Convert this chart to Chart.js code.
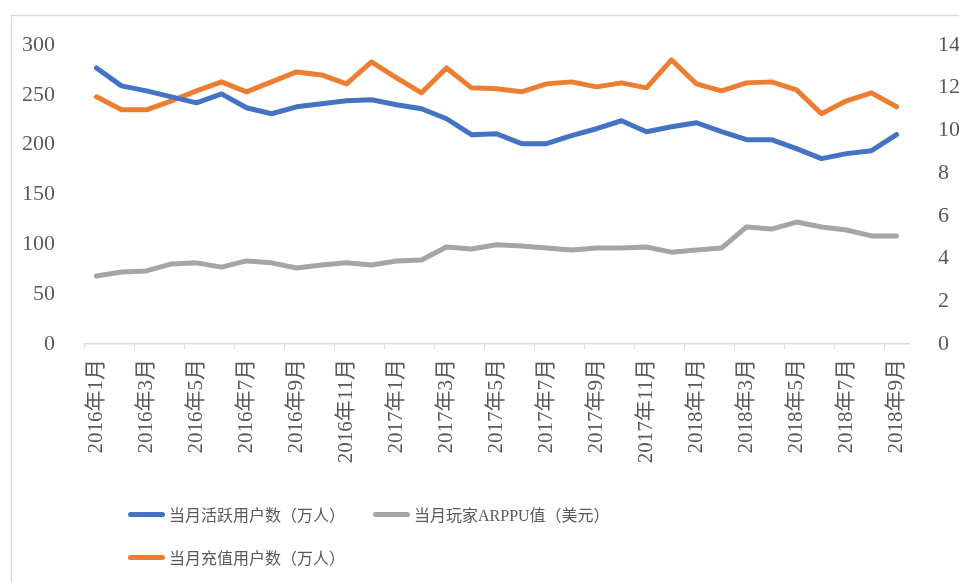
<!DOCTYPE html>
<html>
<head>
<meta charset="utf-8">
<script src="https://cdn.jsdelivr.net/npm/chart.js@4.4.1/dist/chart.umd.min.js"></script>
<style>
  html, body { margin: 0; padding: 0; background: #fff; }
  #wrap { position: relative; width: 959px; height: 582px; overflow: hidden; }
  #c { position: absolute; left: 0; top: 0; }
  .lg { position: absolute; display: flex; align-items: center; font-family: 'Liberation Serif', 'Noto Sans CJK SC', serif; font-size: 16px; color: #595959; white-space: nowrap; }
  .sw { display: inline-block; width: 37px; height: 5px; border-radius: 3px; margin-right: 4px; }
</style>
</head>
<body>
<div id="wrap">
  <canvas id="c" width="959" height="582"></canvas>
  <div id="legend"></div>
</div>
<script>
const categories = [
  '2016年1月','2016年2月','2016年3月','2016年4月','2016年5月','2016年6月','2016年7月','2016年8月','2016年9月','2016年10月','2016年11月','2016年12月',
  '2017年1月','2017年2月','2017年3月','2017年4月','2017年5月','2017年6月','2017年7月','2017年8月','2017年9月','2017年10月','2017年11月','2017年12月',
  '2018年1月','2018年2月','2018年3月','2018年4月','2018年5月','2018年6月','2018年7月','2018年8月','2018年9月'
];
const activeUsers = [277,259,254,248,242,251,237,231,238,241,244,245,240,236,226,210,211,201,201,209,216,224,213,218,222,213,205,205,196,186,191,194,210];
const payingUsers = [248,235,235,244,254,263,253,263,273,270,261,283,267,252,277,257,256,253,261,263,258,262,257,285,261,254,262,263,255,231,244,252,238];
const arppu = [3.18,3.37,3.42,3.75,3.8,3.6,3.89,3.8,3.56,3.7,3.8,3.7,3.89,3.93,4.54,4.45,4.65,4.59,4.49,4.4,4.49,4.5,4.54,4.3,4.4,4.49,5.48,5.38,5.71,5.48,5.34,5.06,5.06];
const seriesNames = ['当月活跃用户数（万人）','当月玩家ARPPU值（美元）','当月充值用户数（万人）'];
const seriesColors = ['#4472C4','#A5A5A5','#ED7D31'];

const FONT = "'Liberation Serif', 'Noto Sans CJK SC', serif";
const TXT = '#595959';

const borderPlugin = {
  id: 'frame',
  beforeDraw(chart) {
    const ctx = chart.ctx;
    ctx.save();
    ctx.strokeStyle = '#d9d9d9';
    ctx.lineWidth = 1.5;
    ctx.strokeRect(11.5, 15.5, 2000, 2000);
    ctx.restore();
  }
};

const mk = (label, data, color, axis) => ({
  label, data, yAxisID: axis,
  borderColor: color, backgroundColor: color,
  borderWidth: 5, pointRadius: 0, tension: 0,
  borderCapStyle: 'round', borderJoinStyle: 'round', fill: false
});

new Chart(document.getElementById('c'), {
  type: 'line',
  data: {
    labels: categories,
    datasets: [
      mk(seriesNames[0], activeUsers, seriesColors[0], 'y'),
      mk(seriesNames[1], arppu, seriesColors[1], 'y2'),
      mk(seriesNames[2], payingUsers, seriesColors[2], 'y')
    ]
  },
  options: {
    responsive: false,
    animation: false,
    layout: { padding: { top: 45, left: 0, right: 0, bottom: 0 } },
    plugins: { legend: { display: false }, tooltip: { enabled: false } },
    scales: {
      x: {
        offset: true,
        grid: {
          offset: true, drawOnChartArea: false, drawTicks: true, tickLength: 5,
          tickColor: (c) => (c.index !== undefined && c.index % 2 === 0) ? '#d9d9d9' : 'rgba(0,0,0,0)'
        },
        border: { color: '#d9d9d9', width: 1.5 },
        ticks: {
          autoSkip: false, maxRotation: 90, minRotation: 90, padding: 10,
          color: TXT, font: { family: FONT, size: 21 },
          callback: function(v, i) { return i % 2 === 0 ? this.getLabelForValue(v) : ''; }
        },
        afterFit: (s) => { s.height = 238; }
      },
      y: {
        position: 'left', min: 0, max: 300,
        grid: { display: false }, border: { display: false },
        ticks: { stepSize: 50, padding: 21, color: TXT, font: { family: FONT, size: 22 } },
        afterFit: (s) => { s.width = 84; }
      },
      y2: {
        position: 'right', min: 0, max: 14,
        grid: { display: false }, border: { display: false },
        ticks: { stepSize: 2, padding: 21, color: TXT, font: { family: FONT, size: 22 } },
        afterFit: (s) => { s.width = 50; }
      }
    }
  },
  plugins: [borderPlugin]
});

// legend (HTML, real text)
const legendPos = [[128, 514], [373, 514], [128, 557]];
const lg = document.getElementById('legend');
seriesNames.forEach((name, i) => {
  const d = document.createElement('div');
  d.className = 'lg';
  d.style.left = legendPos[i][0] + 'px';
  d.style.top = (legendPos[i][1] - 12) + 'px';
  d.style.height = '24px';
  const sw = document.createElement('span');
  sw.className = 'sw';
  sw.style.background = seriesColors[i];
  const t = document.createElement('span');
  t.textContent = name;
  d.appendChild(sw); d.appendChild(t);
  lg.appendChild(d);
});
</script>
</body>
</html>
